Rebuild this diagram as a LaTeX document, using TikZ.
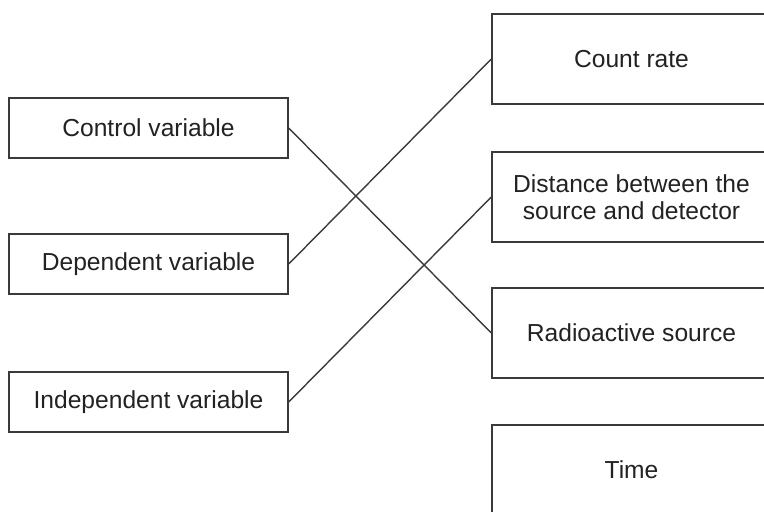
\documentclass[tikz,border=0pt]{standalone}
\usepackage{fontspec}
\setmainfont{Liberation Sans}
\usetikzlibrary{positioning}
\definecolor{mline}{HTML}{3A3A3A}
\definecolor{mtext}{HTML}{222222}

\begin{document}
\begin{tikzpicture}[
  x=0.5pt,y=-0.5pt,
  lbox/.style={draw=mline,fill=white,line width=0.7pt,minimum width=139.5pt,
               minimum height=30pt,align=center,inner sep=0pt,
               font=\fontsize{12.3}{13.5}\selectfont,text=mtext},
  rbox/.style={lbox,minimum height=45pt},
  match/.style={draw=mline,line width=0.7pt}
]
\useasboundingbox (0,0) rectangle (764,512);
\clip (0,0) rectangle (764,512);

% left column
\node[lbox] (ctrl)  at (148.5,128) {Control variable};
\node[lbox] (dep)   at (148.5,264) {Dependent variable};
\node[lbox] (indep) at (148.5,402) {Independent variable};

% right column (runs off the right edge)
\node[rbox] (count) at (631.5,59)  {Count rate};
\node[rbox] (dist)  at (631.5,197) {Distance between the\\source and detector};
\node[rbox] (radio) at (631.5,333) {Radioactive source};
\node[rbox] (time)  at (631.5,470) {Time};

\draw[match] (ctrl.east)  -- (radio.west);
\draw[match] (dep.east)   -- (count.west);
\draw[match] (indep.east) -- (dist.west);
\end{tikzpicture}
\end{document}
